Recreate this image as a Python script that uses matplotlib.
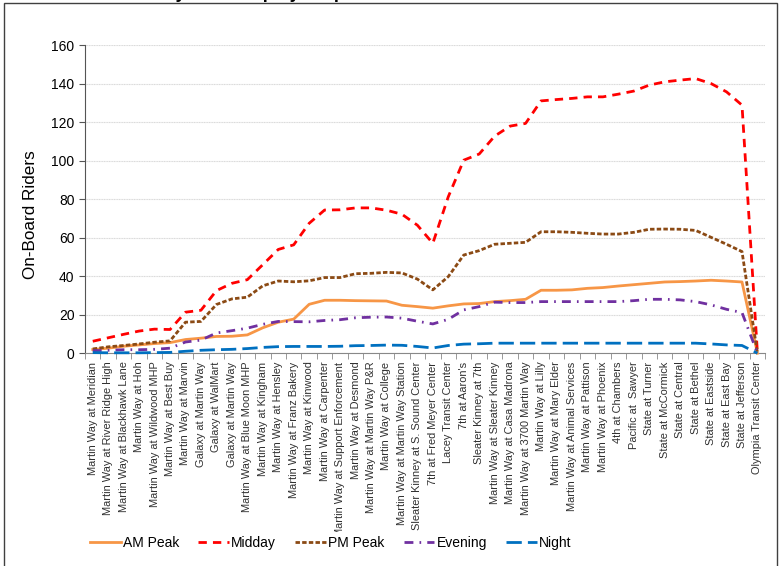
"""Weekday on-board load profile by stop, one line per time period."""

import matplotlib

matplotlib.use("Agg")
import matplotlib.pyplot as plt
from matplotlib.patches import Rectangle

plt.rcParams["font.family"] = ["Liberation Sans", "DejaVu Sans"]

stops = [
    "Martin Way at Meridian", "Martin Way at River Ridge High", "Martin Way at Blackhawk Lane",
    "Martin Way at Hoh", "Martin Way at Wildwood MHP", "Martin Way at Best Buy",
    "Martin Way at Marvin", "Galaxy at Martin Way", "Galaxy at WalMart", "Galaxy at Martin Way",
    "Martin Way at Blue Moon MHP", "Martin Way at Kingham", "Martin Way at Hensley",
    "Martin Way at Franz Bakery", "Martin Way at Kinwood", "Martin Way at Carpenter",
    "Martin Way at Support Enforcement", "Martin Way at Desmond", "Martin Way at Martin Way P&R",
    "Martin Way at College", "Martin Way at Martin Way Station", "Sleater Kinney at S. Sound Center",
    "7th at Fred Meyer Center", "Lacey Transit Center", "7th at Aaron's", "Sleater Kinney at 7th",
    "Martin Way at Sleater Kinney", "Martin Way at Casa Madrona", "Martin Way at 3700 Martin Way",
    "Martin Way at Lilly", "Martin Way at Mary Elder", "Martin Way at Animal Services",
    "Martin Way at Pattison", "Martin Way at Phoenix", "4th at Chambers", "Pacific at  Sawyer",
    "State at Turner", "State at McCormick", "State at Central", "State at Bethel",
    "State at Eastside", "State at East Bay", "State at Jefferson", "Olympia Transit Center",
]

am_peak = [1.9, 2.6, 3.6, 4.3, 5.0, 5.5, 7.1, 7.8, 8.7, 8.8, 9.5,
           13.2, 16.1, 17.7, 25.4, 27.5, 27.5, 27.3, 27.2, 27.1, 24.9, 24.2,
           23.4, 24.6, 25.6, 25.8, 26.8, 27.3, 28.0, 32.7, 32.7, 32.9, 33.7,
           34.1, 34.9, 35.6, 36.3, 37.0, 37.2, 37.5, 37.9, 37.5, 37.0, 0]
midday = [6.2, 8.0, 9.8, 11.5, 12.5, 12.3, 21.3, 22.3, 32.5, 36.3, 38.2,
          46.0, 53.9, 56.3, 67.5, 74.4, 74.5, 75.5, 75.5, 74.3, 72.2, 66.5,
          57.1, 81.3, 100.3, 103.5, 112.8, 118.0, 119.4, 131.1, 131.8, 132.4, 133.2,
          133.2, 134.6, 136.2, 139.3, 141.0, 141.9, 142.7, 140.1, 135.8, 128.9, 0]
pm_peak = [2.2, 3.3, 4.0, 4.8, 5.7, 6.4, 16.1, 16.5, 25.3, 28.2, 29.1,
           35.0, 37.5, 37.1, 37.6, 39.3, 39.3, 41.3, 41.5, 42.0, 41.7, 38.5,
           32.9, 39.8, 51.0, 53.3, 56.6, 57.1, 57.6, 63.1, 63.1, 62.8, 62.3,
           61.9, 61.9, 62.8, 64.4, 64.5, 64.4, 63.8, 60.2, 56.6, 52.8, 0]
evening = [1.3, 1.5, 1.8, 1.8, 2.0, 2.6, 5.8, 6.8, 10.5, 11.7, 13.0,
           15.0, 16.5, 16.4, 16.3, 17.0, 17.4, 18.4, 18.7, 18.8, 18.2, 16.6,
           15.2, 17.6, 22.5, 24.2, 26.5, 26.3, 26.3, 26.8, 26.8, 26.8, 26.8,
           26.8, 26.8, 27.3, 28.0, 28.0, 27.7, 26.8, 25.1, 22.8, 21.1, 0]
night = [0.3, 0.2, 0.2, 0.2, 0.3, 0.4, 1.0, 1.5, 1.8, 2.0, 2.4,
         3.0, 3.4, 3.5, 3.5, 3.5, 3.6, 3.9, 4.0, 4.2, 4.1, 3.5,
         2.7, 4.0, 4.7, 4.9, 5.2, 5.2, 5.2, 5.2, 5.2, 5.2, 5.2,
         5.2, 5.2, 5.2, 5.2, 5.2, 5.2, 5.2, 4.8, 4.3, 4.0, 0]

series = [
    ("AM Peak", am_peak, "#F79646", "-"),
    ("Midday", midday, "#FF0000", (0, (3.0, 2.2))),
    ("PM Peak", pm_peak, "#8B4A14", (0, (1.6, 0.8))),
    ("Evening", evening, "#7030A0", (0, (3.2, 2.2, 0.6, 2.2))),
    ("Night", night, "#0070C0", (0, (5.5, 2.2))),
]

fig = plt.figure(figsize=(7.8, 5.66), dpi=100)
ax = fig.add_axes([0.109, 0.376, 0.872, 0.544])

x = list(range(len(stops)))
for name, vals, color, dash in series:
    ax.plot(x, vals, linestyle=dash, color=color, lw=2.0, label=name, clip_on=False, zorder=3)

ax.set_xlim(-0.5, len(stops) - 0.5)
ax.set_ylim(0, 160)
ax.set_yticks(range(0, 161, 20))
ax.set_xticks(x)
ax.set_xticklabels(stops, rotation=90, fontsize=7.9, color="#303030")
ax.set_xticks([i - 0.5 for i in range(len(stops) + 1)], minor=True)
ax.tick_params(axis="x", which="major", length=0, pad=6)
ax.tick_params(axis="x", which="minor", length=4, color="#888888", direction="out")
ax.tick_params(axis="y", labelsize=10, length=4, color="#555555")
ax.set_ylabel("On-Board Riders", fontsize=12.3)
ax.yaxis.set_label_coords(-0.069, 0.451)
ax.grid(axis="y", color="#d9d9d9", lw=0.8, ls=(0, (1, 0.5)))
ax.set_axisbelow(True)
for s in ("top", "right"):
    ax.spines[s].set_visible(False)
ax.spines["left"].set_color("#555555")
ax.spines["bottom"].set_color("#888888")

# white legend band sits over the end of the longest stop name, as in the source
leg = fig.legend(
    loc="center", bbox_to_anchor=(0.424, 0.041), ncol=5, frameon=True, fontsize=10,
    handlelength=2.2, columnspacing=1.4, handletextpad=0.15, fancybox=False,
    borderpad=0.3,
)
leg.get_frame().set_facecolor("white")
leg.get_frame().set_edgecolor("none")
leg.get_frame().set_alpha(1.0)

# chart frame and the clipped title above it
fig.patches.append(Rectangle((4 / 780, -0.01), 773 / 780, 1 - 3 / 566 + 0.01,
                             transform=fig.transFigure, fill=False, ec="#404040", lw=1.0))
fig.text(0.29, 1.003, "Weekday Ridership by Stop", ha="center", va="baseline",
         fontsize=13, fontweight="bold")

fig.savefig("out.png", dpi=100)
